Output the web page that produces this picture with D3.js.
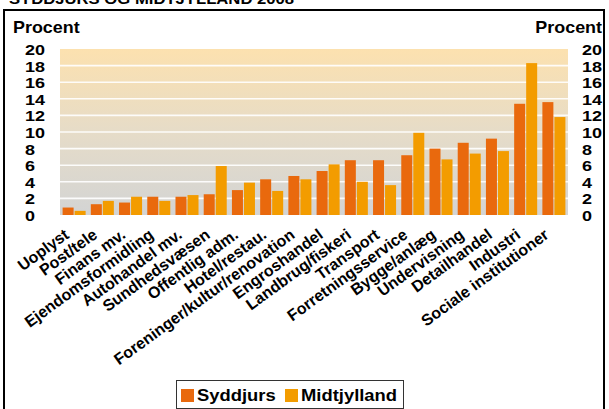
<!DOCTYPE html>
<html>
<head>
<meta charset="utf-8">
<script src="https://cdn.jsdelivr.net/npm/d3@7"></script>
<style>
  html, body { margin: 0; padding: 0; background: #fff; }
  svg { display: block; }
  text { font-family: "Liberation Sans", Arial, sans-serif; font-weight: bold; fill: #000; }
</style>
</head>
<body>
<script>
const categories = ["Uoplyst", "Post/tele", "Finans mv.", "Ejendomsformidling", "Autohandel mv.",
  "Sundhedsvæsen", "Offentlig adm.", "Hotel/restau.", "Foreninger/kultur/renovation", "Engroshandel",
  "Landbrug/fiskeri", "Transport", "Forretningsservice", "Bygge/anlæg", "Undervisning",
  "Detailhandel", "Industri", "Sociale institutioner"];
const seriesNames = ["Syddjurs", "Midtjylland"];
const syddjurs =    [0.9, 1.3, 1.5, 2.2, 2.2, 2.5, 3.0, 4.3, 4.7, 5.3, 6.6, 6.6, 7.2, 8.0, 8.7, 9.2, 13.4, 13.6];
const midtjylland = [0.5, 1.7, 2.2, 1.7, 2.4, 5.9, 3.9, 2.9, 4.3, 6.1, 4.0, 3.6, 9.9, 6.7, 7.4, 7.7, 18.3, 11.8];
const yTicks = [0, 2, 4, 6, 8, 10, 12, 14, 16, 18, 20];
const colors = ["#E9690D", "#F39C00"];
const titleText = "SYDDJURS OG MIDTJYLLAND 2008";
const axisTitle = "Procent";

const W = 609, H = 409;
const svg = d3.select("body").append("svg").attr("width", W).attr("height", H);

// clipped title at very top
svg.append("text").attr("transform", "translate(9,4) scale(1.15,1)")
  .attr("font-size", 14.5).text(titleText);

// frame
svg.append("rect").attr("x", 4).attr("y", 10).attr("width", 600).attr("height", 404)
  .attr("fill", "#fff").attr("stroke", "#000").attr("stroke-width", 2);

const pLeft = 60, pRight = 568, pTop = 49, pBottom = 215;

const y = d3.scaleLinear().domain([0, 20]).range([pBottom, pTop]);
const x0 = d3.scaleBand().domain(categories).range([pLeft, pRight])
  .paddingInner(5.2 / 28.2).paddingOuter(2.6 / 28.2);
const x1 = d3.scaleBand().domain(seriesNames).range([0, x0.bandwidth()]).paddingInner(1 / 12);

// background gradient
const defs = svg.append("defs");
const grad = defs.append("linearGradient").attr("id", "bg").attr("x1", 0).attr("y1", 0).attr("x2", 0).attr("y2", 1);
grad.append("stop").attr("offset", "0%").attr("stop-color", "#FCE1AF");
grad.append("stop").attr("offset", "50%").attr("stop-color", "#E6DCC8");
grad.append("stop").attr("offset", "100%").attr("stop-color", "#D3D4D4");
svg.append("rect").attr("x", pLeft).attr("y", pTop).attr("width", pRight - pLeft).attr("height", pBottom - pTop)
  .attr("fill", "url(#bg)");

// gridlines
svg.append("g").selectAll("line").data(yTicks.filter(t => t > 0 && t < 20)).join("line")
  .attr("x1", pLeft).attr("x2", pRight)
  .attr("y1", d => y(d)).attr("y2", d => y(d))
  .attr("stroke", "#fff").attr("stroke-width", 1.6).attr("stroke-opacity", 0.9);

// bars
const data = categories.map((c, i) => ({ c, vals: [syddjurs[i], midtjylland[i]] }));
const g = svg.append("g").selectAll("g").data(data).join("g")
  .attr("transform", d => `translate(${x0(d.c)},0)`);
g.selectAll("rect").data(d => d.vals.map((v, k) => ({ v, s: seriesNames[k], k }))).join("rect")
  .attr("x", d => x1(d.s)).attr("width", x1.bandwidth())
  .attr("y", d => y(d.v)).attr("height", d => y(0) - y(d.v))
  .attr("fill", d => colors[d.k]);

// left tick labels
svg.append("g").selectAll("text").data(yTicks).join("text")
  .attr("transform", d => `translate(25,${y(d) + 6}) scale(1.2,1)`)
  .attr("font-size", 15).text(d => d);
// right tick labels
svg.append("g").selectAll("text").data(yTicks).join("text")
  .attr("transform", d => `translate(582,${y(d) + 6}) scale(1.2,1)`)
  .attr("font-size", 15).text(d => d);

// axis titles
svg.append("text").attr("transform", "translate(13,33) scale(1.12,1)").attr("font-size", 16).text(axisTitle);
svg.append("text").attr("transform", "translate(602,33) scale(1.12,1)").attr("font-size", 16)
  .attr("text-anchor", "end").text(axisTitle);

// x labels
svg.append("g").selectAll("text").data(categories).join("text")
  .attr("transform", d => `translate(${x0(d) + x0.bandwidth() / 2 - 4},237) rotate(-36)`)
  .attr("text-anchor", "end").attr("font-size", 16).text(d => d);

// legend
const lg = svg.append("g");
lg.append("rect").attr("x", 176.5).attr("y", 380.5).attr("width", 227).attr("height", 28)
  .attr("fill", "#fff").attr("stroke", "#333").attr("stroke-width", 1);
const legendX = [181, 285];
seriesNames.forEach((s, k) => {
  lg.append("rect").attr("x", legendX[k]).attr("y", 389).attr("width", 13).attr("height", 13).attr("fill", colors[k]);
  lg.append("text").attr("transform", `translate(${legendX[k] + 16},401) scale(1.15,1)`)
    .attr("font-size", 16).text(s);
});
</script>
</body>
</html>
